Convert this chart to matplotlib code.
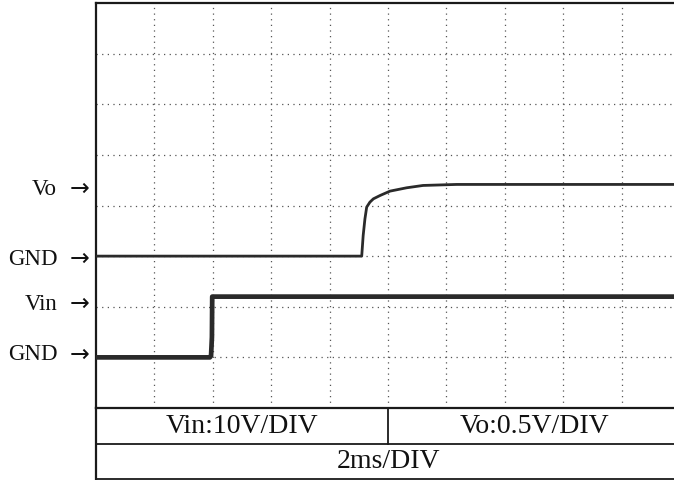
import matplotlib.pyplot as plt

# Vin: 10 V/div, ground sits one division above the bottom edge
vin_t = [0.0, 3.90, 3.94, 3.97, 3.98, 20.0]
vin_v = [0.0, 0.0, 0.3, 4.0, 12.0, 12.0]

# Vo: 0.5 V/div, ground sits three divisions above the bottom edge
vo_t = [0.0, 9.10, 9.15, 9.21, 9.27, 9.38, 9.50, 9.73, 10.07, 10.64, 11.20, 12.35, 20.0]
vo_v = [0.0, 0.0, 0.204, 0.368, 0.484, 0.533, 0.566, 0.599, 0.642, 0.675, 0.698, 0.708, 0.708]

VIN_SCALE = 10.0   # V/div
VO_SCALE = 0.5     # V/div
VIN_GND = 1.0      # div
VO_GND = 3.0       # div

labels = ["Vo", "GND", "Vin", "GND"]
label_pos = [4.34, 2.96, 2.07, 1.07]

scale_cells = ["Vin:10V/DIV", "Vo:0.5V/DIV"]
time_cell = "2ms/DIV"

plt.rcParams['font.family'] = ['Liberation Serif', 'DejaVu Serif']

W, H = 674, 481
fig = plt.figure(figsize=(W / 100, H / 100), dpi=100)

x0, x1 = 96, 680
y_top, y_grid, y_bot = 4, 409, 480
ax = fig.add_axes([x0 / W, (H - y_grid) / H, (x1 - x0) / W, (y_grid - y_top) / H])

ax.set_xlim(0, 20)
ax.set_ylim(0, 8)
ax.set_xticks([2 * i for i in range(1, 10)])
ax.set_yticks(range(1, 8))
ax.tick_params(length=0, labelbottom=False, labelleft=False)
ax.grid(True, color='#555555', linewidth=0.9, linestyle=(0, (1, 3.5)))
for side in ['top', 'left', 'bottom']:
    ax.spines[side].set_linewidth(1.6)
    ax.spines[side].set_color('#1a1a1a')
ax.spines['right'].set_visible(False)

ax.plot(vin_t, [VIN_GND + v / VIN_SCALE for v in vin_v], color='#2a2a2a', linewidth=3.4,
        solid_joinstyle='round', zorder=3)
ax.plot(vo_t, [VO_GND + v / VO_SCALE for v in vo_v], color='#2a2a2a', linewidth=2.0,
        solid_joinstyle='round', zorder=3)

# channel markers on the left: name plus an arrow pointing at the trace
for txt, yp in zip(labels, label_pos):
    ax.text(-1.33, yp, txt, ha='right', va='center', fontsize=16.5, color='#111111',
            clip_on=False)
    ax.text(-0.22, yp, "\u2192", ha='right', va='center', fontsize=17,
            family=['DejaVu Sans'], color='#111111', clip_on=False)

# scale table under the screen
tab = fig.add_axes([x0 / W, (H - y_bot) / H, (x1 - x0) / W, (y_bot - y_grid) / H])
tab.set_xlim(0, 10)
tab.set_ylim(0, 2)
tab.axis('off')
lc = '#1a1a1a'
tab.plot([0, 10], [1, 1], color=lc, linewidth=1.3)
tab.plot([5, 5], [1, 2], color=lc, linewidth=1.3)
tab.plot([0, 0], [0, 2], color=lc, linewidth=1.6, clip_on=False)
tab.plot([0, 10], [0, 0], color=lc, linewidth=1.3, clip_on=False)
tab.text(2.5, 1.5, scale_cells[0], ha='center', va='center', fontsize=20, color='#111111')
tab.text(7.5, 1.5, scale_cells[1], ha='center', va='center', fontsize=20, color='#111111')
tab.text(5.0, 0.52, time_cell, ha='center', va='center', fontsize=20, color='#111111')

fig.savefig('out.png', dpi=100)
